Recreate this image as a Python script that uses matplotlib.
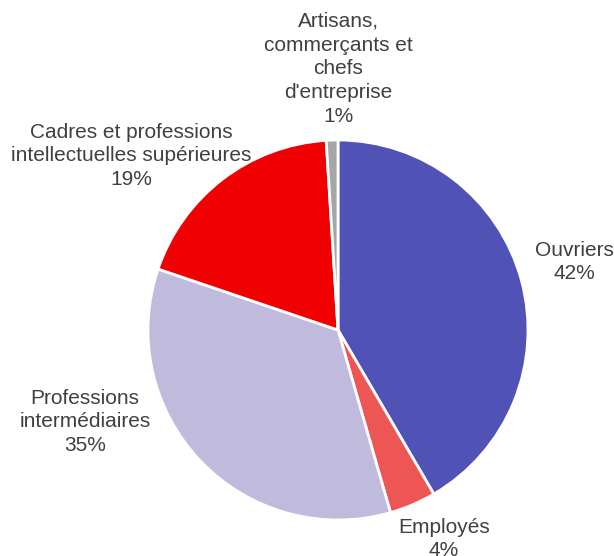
import matplotlib.pyplot as plt
import numpy as np

labels = ['Ouvriers', 'Employés', 'Professions\nintermédiaires',
          'Cadres et professions\nintellectuelles supérieures',
          'Artisans,\ncommerçants et\nchefs\nd\'entreprise']
values = [42, 4, 35, 19, 1]
pct_labels = ['42%', '4%', '35%', '19%', '1%']
colors = ['#5152B5', '#EE5656', '#C0BBDD', '#F00000', '#A6A6A6']
# label positions (in pie radius units)
label_pos = [(1.245, 0.358), (0.558, -1.10), (-1.332, -0.484), (-1.089, 0.916), (0.0, 1.374)]

fig = plt.figure(figsize=(6.14, 5.56), dpi=100)
ax = fig.add_axes([0, 0, 1, 1])
ax.pie(values, colors=colors, startangle=90, counterclock=False,
       wedgeprops=dict(edgecolor='white', linewidth=2))

for lab, pct, (x, y) in zip(labels, pct_labels, label_pos):
    ax.text(x, y, lab + '\n' + pct, ha='center', va='center', fontsize=15,
            color='#404040', family=['Liberation Sans', 'DejaVu Sans'],
            linespacing=1.32)

ax.set_xlim(-338 / 190, (614 - 338) / 190)
ax.set_ylim(-(556 - 330) / 190, 330 / 190)
ax.set_aspect('equal')
ax.axis('off')

plt.savefig('out.png', dpi=100)
